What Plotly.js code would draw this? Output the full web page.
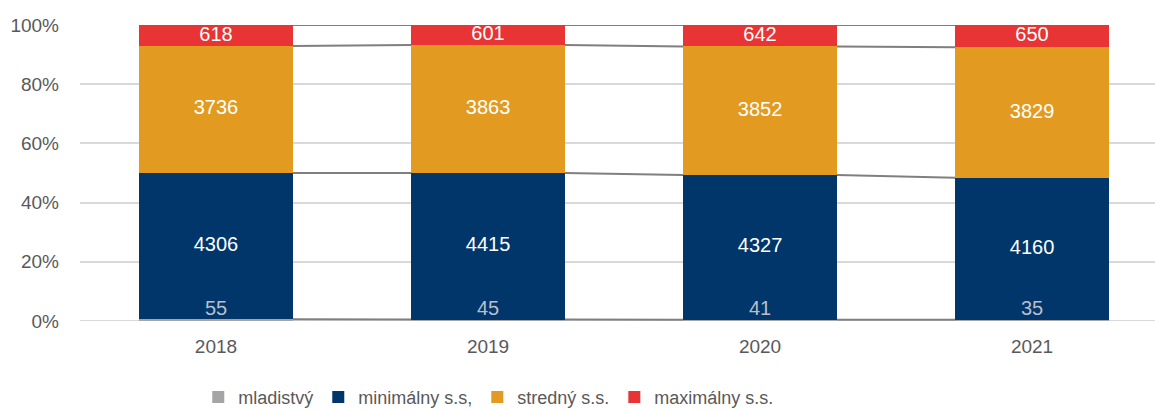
<!DOCTYPE html>
<html>
<head>
<meta charset="utf-8">
<script src="https://cdn.plot.ly/plotly-3.0.1.min.js"></script>
<style>html,body{margin:0;padding:0;background:#fff;}#chart{width:1155px;height:412px;}</style>
</head>
<body>
<div id="chart"></div>
<script>
const years = ['2018', '2019', '2020', '2021'];
const mladistvy = [55, 45, 41, 35];
const minimalny = [4306, 4415, 4327, 4160];
const stredny = [3736, 3863, 3852, 3829];
const maximalny = [618, 601, 642, 650];
const seriesNames = ['mladistvý', 'minimálny s.s,', 'stredný s.s.', 'maximálny s.s.'];
const seriesColors = ['#a5a5a5', '#00366a', '#e29b20', '#e83434'];
const yTickVals = [0, 20, 40, 60, 80, 100];
const yTickText = ['0%', '20%', '40%', '60%', '80%', '100%'];

const FONT = '"Liberation Sans", Arial, sans-serif';
const BARW = 0.566;
const xs = years.map((_, i) => i);
const series = [mladistvy, minimalny, stredny, maximalny];

const traces = [];
series.forEach((vals, k) => {
  traces.push({
    type: 'bar', x: xs, y: vals, name: seriesNames[k],
    marker: {color: seriesColors[k]}, width: BARW,
    textposition: 'none', hoverinfo: 'skip'
  });
});

// cumulative percentages (for series lines and label positions)
const totals = xs.map(i => series.reduce((s, a) => s + a[i], 0));
const cum = [];
let run = xs.map(() => 0);
series.forEach(a => {
  run = run.map((r, i) => r + a[i]);
  cum.push(run.map((r, i) => 100 * r / totals[i]));
});
cum.forEach(c => {
  const lx = [], ly = [];
  for (let i = 0; i < xs.length - 1; i++) {
    lx.push(xs[i] + BARW / 2, xs[i + 1] - BARW / 2, null);
    ly.push(c[i], c[i + 1], null);
  }
  traces.push({type: 'scatter', mode: 'lines', x: lx, y: ly, line: {color: '#7f7f7f', width: 2},
    showlegend: false, hoverinfo: 'skip', cliponaxis: false});
});

// value labels for the visible segments
series.forEach((vals, k) => {
  if (k === 0) return;
  traces.push({
    type: 'scatter', mode: 'text', x: xs,
    y: xs.map(i => (cum[k][i] + cum[k - 1][i]) / 2),
    text: vals.map(String), textposition: 'middle center',
    textfont: {family: FONT, size: 20, color: '#ffffff'},
    showlegend: false, hoverinfo: 'skip', cliponaxis: false
  });
});
// mladistvý labels
traces.push({
  type: 'scatter', mode: 'text', x: xs, y: mladistvy.map((v, i) => 50 * v / totals[i]),
  text: mladistvy.map(String), textposition: 'top center',
  textfont: {family: FONT, size: 20, color: '#b8bfcc'},
  showlegend: false, hoverinfo: 'skip', cliponaxis: false
});

const layout = {
  width: 1155, height: 412,
  margin: {l: 80, r: 0, t: 25, b: 91, autoexpand: false},
  barmode: 'stack', barnorm: 'percent',
  paper_bgcolor: '#ffffff', plot_bgcolor: '#ffffff',
  showlegend: true,
  legend: {orientation: 'h', x: 0.11, xanchor: 'left', y: -0.258, yanchor: 'middle',
    traceorder: 'normal', font: {family: FONT, size: 18, color: '#595959'},
    itemwidth: 30, itemclick: false, tracegroupgap: 0},
  xaxis: {range: [-0.5, 3.452], tickvals: xs, ticktext: years, showgrid: false, zeroline: false,
    showline: false, ticks: '', ticklabelstandoff: 12,
    tickfont: {family: FONT, size: 19, color: '#595959'}},
  yaxis: {range: [0, 100], tickvals: yTickVals, ticktext: yTickText, showgrid: true,
    gridcolor: '#d9d9d9', gridwidth: 2, zeroline: false, showline: false, ticks: '',
    ticklabelstandoff: 20, tickfont: {family: FONT, size: 19, color: '#595959'}},
  shapes: [{type: 'line', xref: 'paper', yref: 'y', x0: 0, x1: 1, y0: 0, y1: 0,
    line: {color: '#d9d9d9', width: 2}, layer: 'below'}]
};

Plotly.newPlot('chart', traces, layout, {staticPlot: true, displayModeBar: false});
</script>
</body>
</html>
